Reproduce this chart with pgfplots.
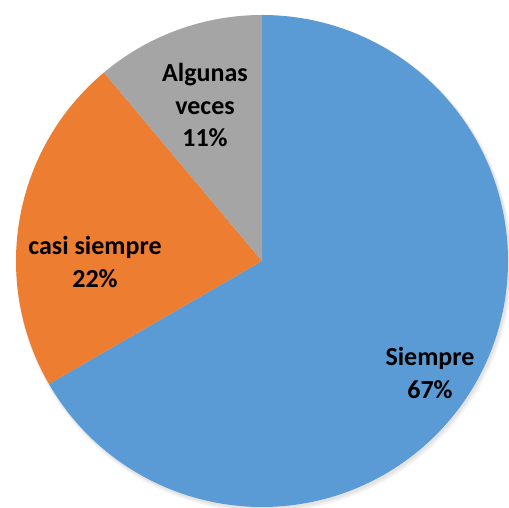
\documentclass[border=0pt]{standalone}
\usepackage{pgfplots}
\pgfplotsset{compat=1.18}
\usepackage{pgfplotstable}
\usepackage{fontspec}
\setmainfont{Carlito}
\definecolor{cBlue}{HTML}{5B9BD5}
\definecolor{cOrange}{HTML}{ED7D31}
\definecolor{cGray}{HTML}{A5A5A5}

\pgfplotstableread{
label value
Siempre 66.67
casi 22.22
Algunas 11.11
}\piedata

\pgfplotstablegetelem{0}{value}\of\piedata \let\va\pgfplotsretval
\pgfplotstablegetelem{1}{value}\of\piedata \let\vb\pgfplotsretval
\pgfplotstablegetelem{2}{value}\of\piedata \let\vc\pgfplotsretval
\pgfmathsetmacro\aA{90}
\pgfmathsetmacro\aB{\aA-3.6*\va}
\pgfmathsetmacro\aC{\aB-3.6*\vb}
\pgfmathsetmacro\aD{\aC-3.6*\vc}
\def\cx{262}
\def\cy{247}
\def\R{246}

\begin{document}
\begin{tikzpicture}
\begin{axis}[name=pie, hide axis, scale only axis, width=509pt, height=508pt,
  xmin=0, xmax=509, ymin=0, ymax=508, clip=true]
  % soft shadow
  \fill[black, opacity=0.05] (axis cs:\cx+2,\cy-3) circle[radius=\R pt+2pt];
  \fill[black, opacity=0.06] (axis cs:\cx+1.5,\cy-2) circle[radius=\R pt+0.8pt];
  % wedges
  \fill[cBlue] (axis cs:\cx,\cy) -- (axis cs:{\cx+\R*cos(\aA)},{\cy+\R*sin(\aA)})
     arc[start angle=\aA, end angle=\aB, radius=\R pt] -- cycle;
  \fill[cOrange] (axis cs:\cx,\cy) -- (axis cs:{\cx+\R*cos(\aB)},{\cy+\R*sin(\aB)})
     arc[start angle=\aB, end angle=\aC, radius=\R pt] -- cycle;
  \fill[cGray] (axis cs:\cx,\cy) -- (axis cs:{\cx+\R*cos(\aC)},{\cy+\R*sin(\aC)})
     arc[start angle=\aC, end angle=\aD, radius=\R pt] -- cycle;
  % labels
  \node[align=center, font=\bfseries\fontsize{26}{32.5}\selectfont, text=black]
     at (axis cs:430,135) {Siempre\\67\%};
  \node[align=center, font=\bfseries\fontsize{26}{32.5}\selectfont, text=black]
     at (axis cs:95,246) {casi siempre\\22\%};
  \node[align=center, font=\bfseries\fontsize{26}{32.5}\selectfont, text=black]
     at (axis cs:205,403) {Algunas\\veces\\11\%};
\end{axis}
\pgfresetboundingbox
\path (pie.south west) rectangle (pie.north east);
\end{tikzpicture}
\end{document}
